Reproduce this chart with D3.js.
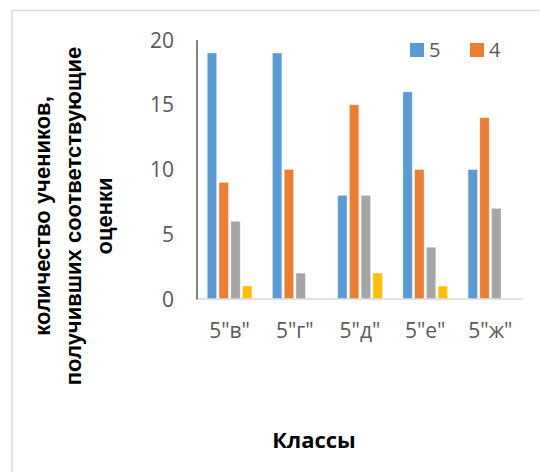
<!DOCTYPE html>
<html><head><meta charset="utf-8">
<script src="https://cdn.jsdelivr.net/npm/d3@7"></script>
<style>body{margin:0;background:#fff}svg{display:block}</style>
</head><body>
<svg id="c" width="540" height="472"></svg>
<script>
const categories = ['5"в"', '5"г"', '5"д"', '5"е"', '5"ж"'];
const seriesNames = ["5", "4", "3", "2"];
const grade5 = [19, 19, 8, 16, 10];
const grade4 = [9, 10, 15, 10, 14];
const grade3 = [6, 2, 8, 4, 7];
const grade2 = [1, 0, 2, 1, 0];
const yTicks = [0, 5, 10, 15, 20];
const legendShown = ["5", "4"];
const colors = ["#5B9BD5", "#ED7D31", "#A5A5A5", "#FFC000"];
const yTitleLines = ["количество учеников,", "получивших соответствующие", "оценки"];
const xTitle = "Классы";

const values = [grade5, grade4, grade3, grade2];
const svg = d3.select("#c");

// frame
svg.append("rect").attr("x", 12).attr("y", 10.5).attr("width", 600).attr("height", 600)
  .attr("fill", "#fff").attr("stroke", "#d9d9d9").attr("stroke-width", 1.5);

const x = d3.scaleBand().domain(categories).range([197, 523]).paddingInner(0.315).paddingOuter(0.1575);
const xs = d3.scaleBand().domain(seriesNames).range([0, x.bandwidth()]).paddingInner(0.2);
const y = d3.scaleLinear().domain([0, 20]).range([299, 40]);
const color = d3.scaleOrdinal().domain(seriesNames).range(colors);

// bars
const data = [];
categories.forEach((c, i) => seriesNames.forEach((s, j) => data.push({c, s, v: values[j][i]})));
svg.append("g").selectAll("rect").data(data.filter(d => d.v > 0)).join("rect")
  .attr("x", d => x(d.c) + xs(d.s)).attr("width", xs.bandwidth())
  .attr("y", d => y(d.v)).attr("height", d => y(0) - y(d.v))
  .attr("fill", d => color(d.s)).attr("stroke", "rgba(255,255,255,0.45)").attr("stroke-width", 0.8);

// x axis line
svg.append("line").attr("x1", 197).attr("x2", 523).attr("y1", y(0)).attr("y2", y(0))
  .attr("stroke", "#d9d9d9").attr("stroke-width", 1.5);
// y axis line
svg.append("line").attr("x1", 197).attr("x2", 197).attr("y1", y(20)).attr("y2", y(0) + 0.5)
  .attr("stroke", "#595959").attr("stroke-width", 1.5);

// y tick labels
svg.append("g").selectAll("text").data(yTicks).join("text")
  .attr("x", 174).attr("y", d => y(d)).attr("dy", "0.36em").attr("text-anchor", "end")
  .attr("font-family", "Open Sans").attr("font-size", 21).attr("fill", "#595959").text(d => d);

// x tick labels
svg.append("g").selectAll("text").data(categories).join("text")
  .attr("x", d => x(d) + x.bandwidth() / 2).attr("y", 330).attr("dy", "0.36em").attr("text-anchor", "middle")
  .attr("font-family", "Open Sans").attr("font-size", 21).attr("fill", "#595959").text(d => d);

// legend
const lg = svg.append("g").selectAll("g").data(legendShown).join("g")
  .attr("transform", (d, i) => `translate(${410 + i * 60},43)`);
lg.append("rect").attr("width", 14).attr("height", 14).attr("fill", d => color(d));
lg.append("text").attr("x", 19).attr("y", 7).attr("dy", "0.36em")
  .attr("font-family", "Open Sans").attr("font-size", 20).attr("fill", "#595959").text(d => d);

// y title
const yt = svg.append("text").attr("transform", "translate(0,216) rotate(-90)")
  .attr("text-anchor", "middle").attr("font-family", "Liberation Sans").attr("font-weight", "bold")
  .attr("font-size", 22).attr("fill", "#000");
yTitleLines.forEach((t, i) => yt.append("tspan").attr("x", 0).attr("y", 50 + i * 31).text(t));

// x title
svg.append("text").attr("x", 314).attr("y", 440).attr("dy", "0.36em").attr("text-anchor", "middle")
  .attr("font-family", "Open Sans").attr("font-weight", "bold").attr("font-size", 22).attr("fill", "#000").text(xTitle);
</script>
</body></html>
